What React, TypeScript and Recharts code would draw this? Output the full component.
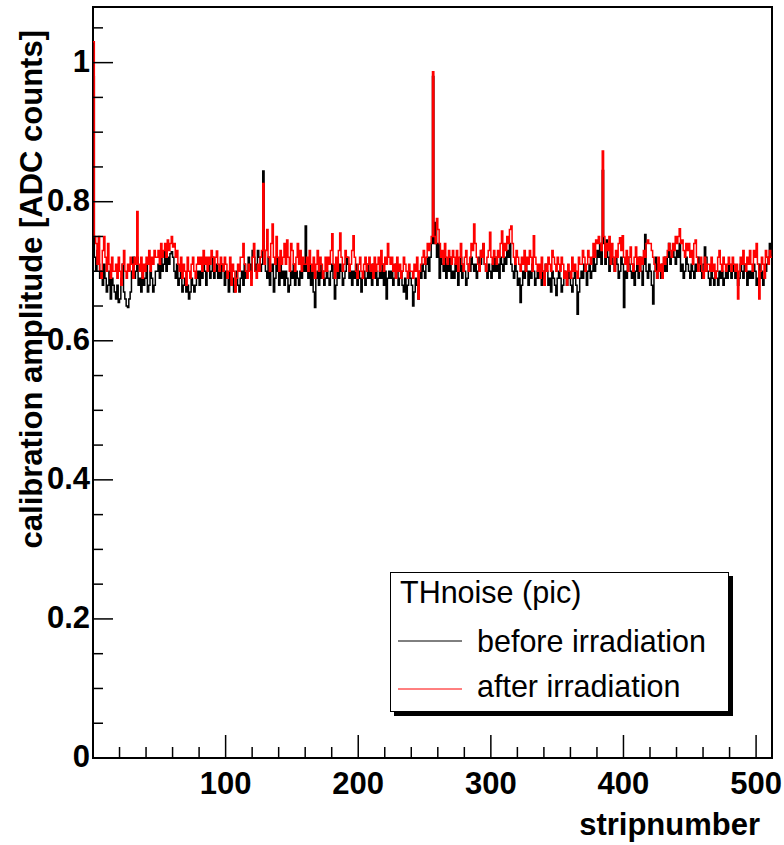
import React from 'react';
import { LineChart, Line, XAxis, YAxis, ReferenceArea, Legend } from 'recharts';

// calibration amplitude per strip (strips 0..511)
const beforeIrradiation: number[] = [
  0.98, 0.72, 0.70, 0.73, 0.71, 0.69, 0.70, 0.68, 0.71, 0.69, 0.67, 0.68, 0.70, 0.66, 0.69, 0.68,
  0.67, 0.66, 0.68, 0.655, 0.66, 0.69, 0.71, 0.67, 0.66, 0.65, 0.648, 0.66, 0.67, 0.70, 0.72, 0.69,
  0.70, 0.72, 0.68, 0.69, 0.67, 0.70, 0.68, 0.69, 0.71, 0.67, 0.68, 0.70, 0.69, 0.67, 0.68, 0.70,
  0.70, 0.71, 0.69, 0.72, 0.70, 0.71, 0.73, 0.70, 0.72, 0.71, 0.725, 0.728, 0.72, 0.70, 0.69, 0.71,
  0.68, 0.69, 0.70, 0.67, 0.68, 0.69, 0.67, 0.68, 0.66, 0.67, 0.69, 0.68, 0.67, 0.68, 0.69, 0.70,
  0.68, 0.70, 0.69, 0.71, 0.70, 0.68, 0.70, 0.71, 0.69, 0.70, 0.72, 0.69, 0.70, 0.71, 0.69, 0.70,
  0.69, 0.71, 0.70, 0.68, 0.70, 0.69, 0.67, 0.70, 0.68, 0.69, 0.67, 0.68, 0.70, 0.68, 0.67, 0.69,
  0.70, 0.68, 0.71, 0.69, 0.70, 0.72, 0.71, 0.69, 0.73, 0.72, 0.70, 0.71, 0.73, 0.72, 0.70, 0.71,
  0.844, 0.73, 0.70, 0.69, 0.72, 0.68, 0.70, 0.71, 0.67, 0.69, 0.72, 0.70, 0.68, 0.71, 0.69, 0.70,
  0.68, 0.70, 0.69, 0.67, 0.68, 0.70, 0.69, 0.71, 0.68, 0.70, 0.69, 0.68, 0.70, 0.69, 0.71, 0.70,
  0.765, 0.70, 0.69, 0.71, 0.68, 0.70, 0.67, 0.648, 0.69, 0.70, 0.68, 0.71, 0.69, 0.70, 0.68, 0.69,
  0.70, 0.69, 0.68, 0.70, 0.71, 0.69, 0.66, 0.68, 0.70, 0.69, 0.71, 0.70, 0.68, 0.69, 0.70, 0.72,
  0.71, 0.69, 0.70, 0.68, 0.70, 0.69, 0.71, 0.68, 0.70, 0.69, 0.67, 0.69, 0.70, 0.68, 0.69, 0.71,
  0.69, 0.70, 0.68, 0.71, 0.69, 0.70, 0.68, 0.69, 0.70, 0.69, 0.71, 0.68, 0.70, 0.66, 0.69, 0.70,
  0.69, 0.70, 0.68, 0.69, 0.71, 0.70, 0.68, 0.69, 0.70, 0.68, 0.67, 0.69, 0.66, 0.68, 0.70, 0.69,
  0.68, 0.65, 0.67, 0.69, 0.68, 0.66, 0.70, 0.69, 0.71, 0.70, 0.69, 0.71, 0.72, 0.70, 0.72, 0.74,
  0.98, 0.74, 0.77, 0.72, 0.74, 0.69, 0.72, 0.71, 0.70, 0.72, 0.69, 0.71, 0.70, 0.72, 0.69, 0.70,
  0.69, 0.71, 0.70, 0.68, 0.70, 0.72, 0.69, 0.71, 0.70, 0.68, 0.69, 0.71, 0.70, 0.72, 0.71, 0.70,
  0.71, 0.69, 0.70, 0.72, 0.71, 0.73, 0.739, 0.71, 0.70, 0.69, 0.71, 0.70, 0.69, 0.71, 0.70, 0.72,
  0.70, 0.71, 0.69, 0.72, 0.71, 0.70, 0.72, 0.71, 0.73, 0.72, 0.74, 0.71, 0.70, 0.69, 0.71, 0.70,
  0.68, 0.69, 0.655, 0.68, 0.70, 0.69, 0.71, 0.70, 0.68, 0.70, 0.69, 0.71, 0.70, 0.68, 0.69, 0.70,
  0.69, 0.70, 0.68, 0.70, 0.69, 0.71, 0.70, 0.68, 0.69, 0.67, 0.70, 0.69, 0.68, 0.665, 0.69, 0.70,
  0.69, 0.67, 0.68, 0.70, 0.69, 0.68, 0.70, 0.69, 0.68, 0.67, 0.69, 0.70, 0.68, 0.638, 0.67, 0.69,
  0.70, 0.69, 0.71, 0.70, 0.68, 0.70, 0.71, 0.69, 0.70, 0.72, 0.70, 0.71, 0.73, 0.72, 0.74, 0.71,
  0.845, 0.74, 0.71, 0.745, 0.72, 0.70, 0.73, 0.72, 0.71, 0.70, 0.72, 0.71, 0.69, 0.70, 0.72, 0.71,
  0.648, 0.70, 0.69, 0.72, 0.71, 0.70, 0.69, 0.71, 0.68, 0.70, 0.71, 0.69, 0.72, 0.70, 0.68, 0.71,
  0.753, 0.70, 0.69, 0.71, 0.70, 0.68, 0.653, 0.70, 0.72, 0.69, 0.71, 0.70, 0.69, 0.71, 0.70, 0.72,
  0.70, 0.72, 0.74, 0.71, 0.72, 0.73, 0.72, 0.71, 0.73, 0.72, 0.74, 0.70, 0.71, 0.69, 0.70, 0.72,
  0.71, 0.70, 0.69, 0.71, 0.70, 0.69, 0.71, 0.70, 0.72, 0.71, 0.70, 0.69, 0.71, 0.735, 0.72, 0.70,
  0.69, 0.68, 0.70, 0.69, 0.68, 0.70, 0.69, 0.68, 0.70, 0.69, 0.70, 0.68, 0.69, 0.70, 0.69, 0.71,
  0.70, 0.69, 0.71, 0.70, 0.69, 0.70, 0.68, 0.69, 0.71, 0.70, 0.69, 0.71, 0.70, 0.68, 0.70, 0.69,
  0.70, 0.69, 0.71, 0.70, 0.68, 0.69, 0.71, 0.69, 0.70, 0.68, 0.69, 0.70, 0.71, 0.72, 0.74, 0.72,
];

const afterIrradiation: number[] = [
  1.03, 0.75, 0.74, 0.71, 0.75, 0.70, 0.69, 0.73, 0.75, 0.72, 0.70, 0.74, 0.71, 0.69, 0.72, 0.70,
  0.70, 0.71, 0.69, 0.72, 0.70, 0.68, 0.71, 0.73, 0.70, 0.69, 0.71, 0.70, 0.72, 0.71, 0.69, 0.72,
  0.71, 0.786, 0.71, 0.70, 0.72, 0.69, 0.71, 0.70, 0.72, 0.71, 0.73, 0.70, 0.72, 0.71, 0.73, 0.72,
  0.72, 0.73, 0.71, 0.74, 0.72, 0.73, 0.74, 0.72, 0.745, 0.73, 0.74, 0.75, 0.735, 0.74, 0.72, 0.73,
  0.71, 0.70, 0.72, 0.69, 0.71, 0.70, 0.68, 0.72, 0.70, 0.69, 0.71, 0.72, 0.70, 0.69, 0.71, 0.72,
  0.71, 0.72, 0.70, 0.73, 0.71, 0.72, 0.70, 0.72, 0.71, 0.73, 0.72, 0.70, 0.72, 0.729, 0.71, 0.70,
  0.72, 0.71, 0.70, 0.72, 0.71, 0.69, 0.70, 0.72, 0.68, 0.71, 0.70, 0.67, 0.69, 0.71, 0.70, 0.72,
  0.72, 0.74, 0.71, 0.70, 0.69, 0.71, 0.70, 0.68, 0.72, 0.74, 0.70, 0.69, 0.71, 0.70, 0.72, 0.73,
  0.826, 0.71, 0.73, 0.76, 0.72, 0.70, 0.74, 0.768, 0.72, 0.71, 0.75, 0.72, 0.70, 0.73, 0.71, 0.72,
  0.74, 0.71, 0.745, 0.72, 0.70, 0.74, 0.73, 0.71, 0.70, 0.72, 0.74, 0.71, 0.73, 0.70, 0.72, 0.71,
  0.71, 0.72, 0.70, 0.73, 0.71, 0.70, 0.72, 0.69, 0.71, 0.73, 0.70, 0.72, 0.71, 0.69, 0.70, 0.72,
  0.70, 0.72, 0.71, 0.73, 0.754, 0.71, 0.69, 0.72, 0.70, 0.73, 0.755, 0.72, 0.70, 0.71, 0.73, 0.72,
  0.72, 0.70, 0.71, 0.73, 0.751, 0.72, 0.70, 0.69, 0.71, 0.72, 0.70, 0.69, 0.71, 0.72, 0.70, 0.71,
  0.72, 0.70, 0.71, 0.69, 0.72, 0.70, 0.71, 0.72, 0.70, 0.73, 0.71, 0.70, 0.72, 0.71, 0.74, 0.72,
  0.71, 0.72, 0.70, 0.71, 0.69, 0.72, 0.70, 0.71, 0.69, 0.70, 0.72, 0.71, 0.70, 0.69, 0.71, 0.70,
  0.70, 0.69, 0.71, 0.70, 0.72, 0.66, 0.70, 0.71, 0.72, 0.73, 0.71, 0.72, 0.74, 0.73, 0.74, 0.75,
  0.987, 0.75, 0.74, 0.776, 0.76, 0.74, 0.72, 0.73, 0.71, 0.74, 0.72, 0.71, 0.73, 0.72, 0.71, 0.73,
  0.72, 0.71, 0.73, 0.70, 0.72, 0.74, 0.71, 0.70, 0.72, 0.73, 0.71, 0.70, 0.72, 0.74, 0.73, 0.768,
  0.74, 0.72, 0.71, 0.70, 0.73, 0.72, 0.74, 0.71, 0.70, 0.72, 0.73, 0.756, 0.72, 0.71, 0.73, 0.72,
  0.71, 0.73, 0.72, 0.74, 0.758, 0.72, 0.74, 0.73, 0.75, 0.74, 0.76, 0.765, 0.74, 0.72, 0.71, 0.73,
  0.72, 0.71, 0.70, 0.72, 0.71, 0.73, 0.70, 0.72, 0.71, 0.73, 0.72, 0.70, 0.751, 0.72, 0.71, 0.70,
  0.71, 0.69, 0.72, 0.70, 0.68, 0.71, 0.70, 0.72, 0.71, 0.70, 0.73, 0.72, 0.71, 0.70, 0.72, 0.71,
  0.70, 0.72, 0.71, 0.69, 0.70, 0.68, 0.71, 0.70, 0.69, 0.72, 0.70, 0.71, 0.70, 0.69, 0.72, 0.71,
  0.71, 0.73, 0.72, 0.70, 0.71, 0.73, 0.72, 0.71, 0.72, 0.74, 0.72, 0.745, 0.74, 0.75, 0.74, 0.73,
  0.873, 0.75, 0.72, 0.74, 0.73, 0.75, 0.71, 0.74, 0.72, 0.70, 0.73, 0.72, 0.74, 0.748, 0.73, 0.751,
  0.72, 0.71, 0.73, 0.70, 0.72, 0.735, 0.71, 0.70, 0.72, 0.735, 0.71, 0.72, 0.70, 0.72, 0.71, 0.73,
  0.72, 0.74, 0.745, 0.74, 0.74, 0.73, 0.72, 0.71, 0.70, 0.69, 0.72, 0.70, 0.71, 0.69, 0.72, 0.71,
  0.72, 0.73, 0.74, 0.73, 0.72, 0.74, 0.73, 0.75, 0.74, 0.75, 0.761, 0.74, 0.745, 0.73, 0.72, 0.74,
  0.73, 0.74, 0.72, 0.73, 0.71, 0.74, 0.745, 0.72, 0.70, 0.71, 0.72, 0.70, 0.69, 0.72, 0.70, 0.71,
  0.71, 0.70, 0.72, 0.70, 0.71, 0.69, 0.70, 0.72, 0.73, 0.71, 0.70, 0.72, 0.71, 0.70, 0.71, 0.72,
  0.71, 0.70, 0.72, 0.71, 0.70, 0.71, 0.66, 0.70, 0.72, 0.71, 0.73, 0.71, 0.70, 0.72, 0.71, 0.73,
  0.71, 0.70, 0.73, 0.72, 0.74, 0.71, 0.66, 0.70, 0.72, 0.71, 0.69, 0.73, 0.72, 0.71, 0.73, 0.72,
];

const xTicks = [20, 40, 60, 80, 100, 120, 140, 160, 180, 200, 220, 240, 260, 280, 300, 320, 340, 360, 380, 400, 420, 440, 460, 480, 500];
const xLabelled = [100, 200, 300, 400, 500];
const yTicks = [0, 0.05, 0.1, 0.15, 0.2, 0.25, 0.3, 0.35, 0.4, 0.45, 0.5, 0.55, 0.6, 0.65, 0.7, 0.75, 0.8, 0.85, 0.9, 0.95, 1, 1.05];
const yLabels: Record<string, string> = { '0': '0', '0.2': '0.2', '0.4': '0.4', '0.6': '0.6', '0.8': '0.8', '1': '1' };

const NSTRIPS = 512;
const YMAX = 1.08;

const data = beforeIrradiation.map((b, i) => ({ strip: i, before: b, after: afterIrradiation[i] }));
data.push({ strip: NSTRIPS, before: beforeIrradiation[NSTRIPS - 1], after: afterIrradiation[NSTRIPS - 1] });

const FONT = '"Liberation Sans", Arial, Helvetica, sans-serif';

const YTick = (p: any) => {
  const v = p.payload.value;
  const label = yLabels[String(v)];
  const major = label !== undefined;
  return (
    <g>
      <line x1={p.x} x2={p.x + (major ? 20 : 10)} y1={p.y} y2={p.y} stroke="#000" strokeWidth={1.5} />
      {major && (
        <text x={p.x - 3} y={p.y} dy="0.3em" textAnchor="end" fontFamily={FONT} fontWeight="bold" fontSize={31} fill="#000">
          {label}
        </text>
      )}
    </g>
  );
};

const XTick = (p: any) => {
  const v = p.payload.value;
  const major = xLabelled.includes(v);
  return (
    <g>
      <line x1={p.x} x2={p.x} y1={p.y} y2={p.y - (major ? 23 : 11)} stroke="#000" strokeWidth={1.5} />
      {major && (
        <text x={p.x} y={p.y + 36} textAnchor="middle" fontFamily={FONT} fontWeight="bold" fontSize={31} fill="#000">
          {v}
        </text>
      )}
    </g>
  );
};

const LegendBox = () => (
  <svg width={345} height={146} style={{ display: 'block' }}>
    <rect x={4} y={4} width={339} height={140} fill="#000" />
    <rect x={0.5} y={0.5} width={338} height={139} fill="#fff" stroke="#000" strokeWidth={1} />
    <text x={10} y={31} fontFamily={FONT} fontSize={30.5} fill="#000">THnoise (pic)</text>
    <line x1={8} x2={72} y1={69} y2={69} stroke="#000" strokeWidth={1} />
    <text x={87} y={80} fontFamily={FONT} fontSize={30.5} fill="#000">before irradiation</text>
    <line x1={8} x2={72} y1={117} y2={117} stroke="#ff0000" strokeWidth={1} />
    <text x={87} y={125} fontFamily={FONT} fontSize={30.5} fill="#000">after irradiation</text>
  </svg>
);

export default function App() {
  return (
    <div style={{ position: 'absolute', left: 0, top: 0, width: 784, height: 845, background: '#fff' }}>
      <LineChart width={784} height={845} data={data} margin={{ top: 7, right: 12, bottom: 0, left: 0 }}>
        <XAxis
          dataKey="strip"
          type="number"
          domain={[0, NSTRIPS]}
          ticks={xTicks}
          interval={0}
          height={87}
          tickSize={0}
          tickMargin={0}
          tickLine={false}
          axisLine={false}
          tick={XTick}
          allowDataOverflow
          label={{
            content: () => (
              <text x={760} y={835} textAnchor="end" fontFamily={FONT} fontWeight="bold" fontSize={31} fill="#000">
                stripnumber
              </text>
            ),
          }}
        />
        <YAxis
          type="number"
          domain={[0, YMAX]}
          ticks={yTicks}
          interval={0}
          width={93}
          tickSize={0}
          tickMargin={0}
          tickLine={false}
          axisLine={false}
          tick={YTick}
          allowDataOverflow
          label={{
            content: () => (
              <text
                transform="translate(42,30) rotate(-90)"
                textAnchor="end"
                fontFamily={FONT}
                fontWeight="bold"
                fontSize={31}
                fill="#000"
              >
                calibration amplitude [ADC counts]
              </text>
            ),
          }}
        />
        <Line type="stepAfter" dataKey="before" stroke="#000" strokeWidth={1.5} dot={false} isAnimationActive={false} />
        <Line type="stepAfter" dataKey="after" stroke="#ff0000" strokeWidth={1.5} dot={false} isAnimationActive={false} />
        <ReferenceArea x1={0} x2={NSTRIPS} y1={0} y2={YMAX} fill="none" stroke="#000" strokeWidth={2} ifOverflow="visible" />
        <Legend
          layout="vertical"
          align="center"
          verticalAlign="middle"
          wrapperStyle={{ left: 390, top: 572, width: 345, height: 146 }}
          content={() => <LegendBox />}
        />
      </LineChart>
    </div>
  );
}
